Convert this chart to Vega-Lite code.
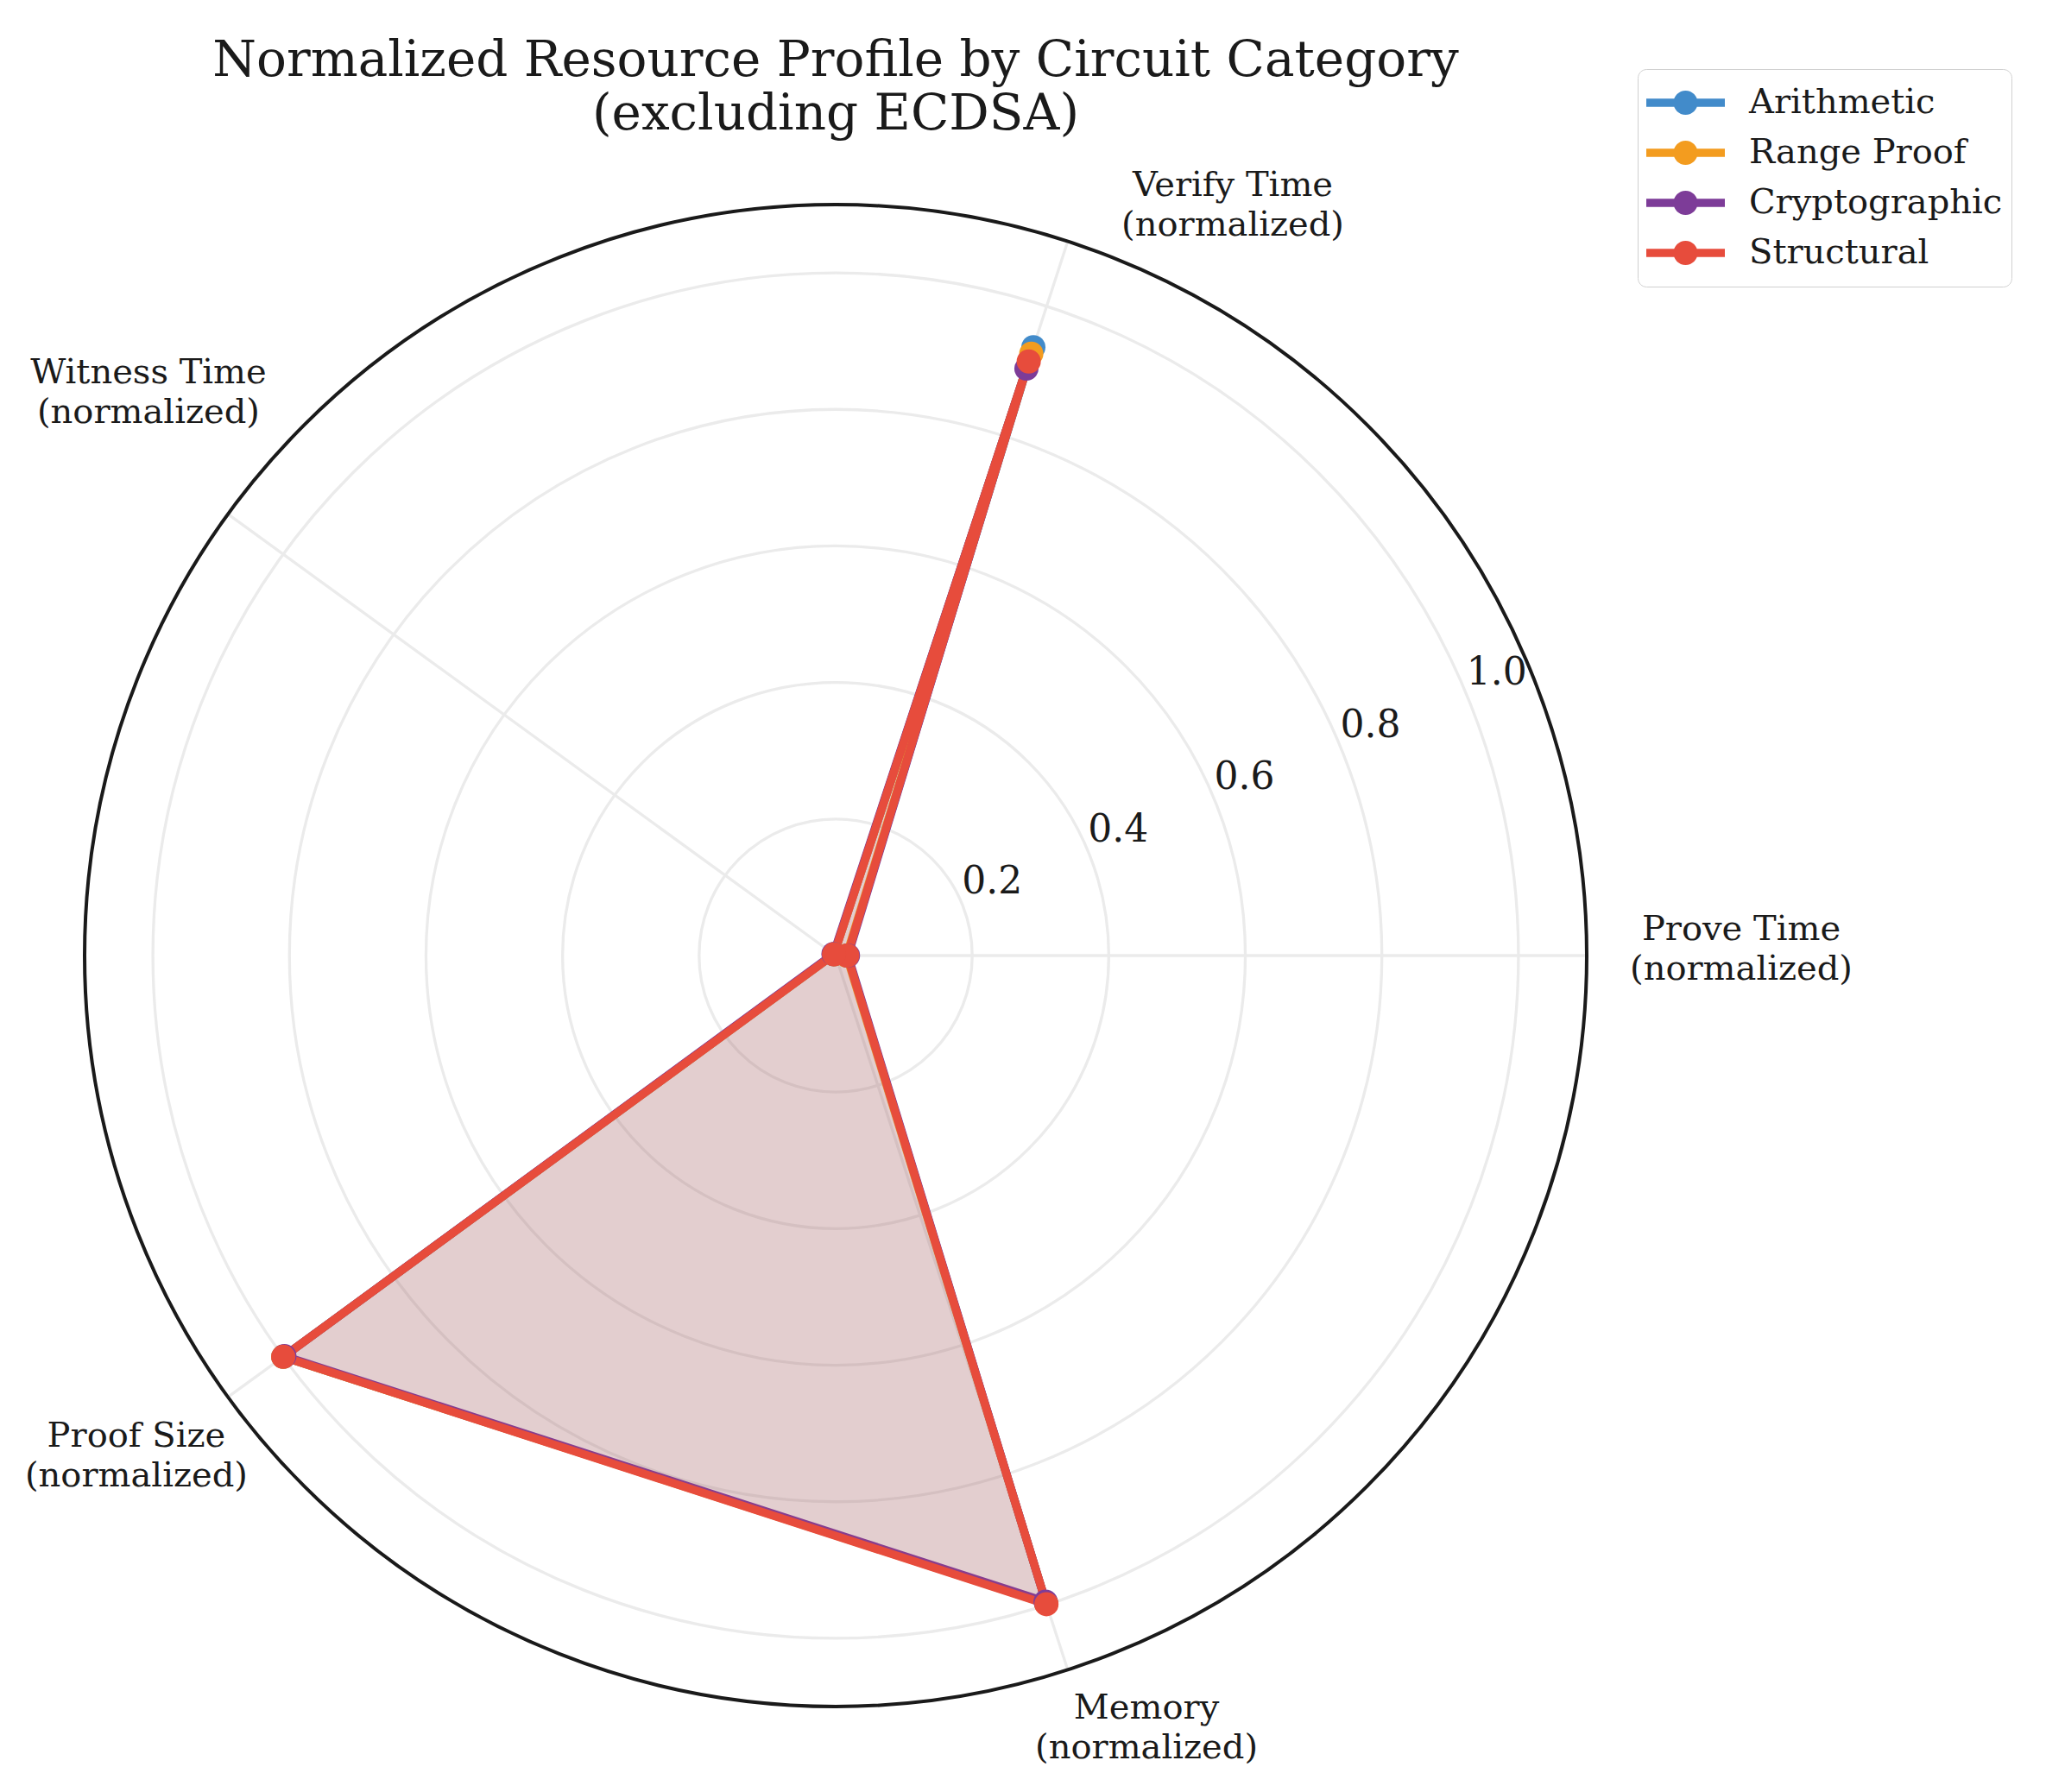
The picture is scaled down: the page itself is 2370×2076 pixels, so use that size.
{
  "$schema": "https://vega.github.io/schema/vega-lite/v6.json",
  "autosize": {"type": "none"},
  "padding": {"left": 0, "top": 138, "right": 434, "bottom": 0},
  "width": 1936,
  "height": 1938,
  "background": "white",
  "config": {"view": {"stroke": null}, "font": "DejaVu Serif"},
  "title": {
    "text": ["Normalized Resource Profile by Circuit Category", "(excluding ECDSA)"],
    "font": "DejaVu Serif",
    "fontSize": 58,
    "fontWeight": "normal",
    "color": "#1a1a1a",
    "lineHeight": 62,
    "anchor": "middle",
    "frame": "group",
    "baseline": "alphabetic",
    "offset": -128
  },
  "datasets": {
    "scores": [
      {"category": "Arithmetic", "metric": "Prove Time", "value": 0.017},
      {"category": "Arithmetic", "metric": "Verify Time", "value": 0.937},
      {"category": "Arithmetic", "metric": "Witness Time", "value": 0.003},
      {"category": "Arithmetic", "metric": "Proof Size", "value": 1.0},
      {"category": "Arithmetic", "metric": "Memory", "value": 0.997},
      {"category": "Range Proof", "metric": "Prove Time", "value": 0.016},
      {"category": "Range Proof", "metric": "Verify Time", "value": 0.927},
      {"category": "Range Proof", "metric": "Witness Time", "value": 0.003},
      {"category": "Range Proof", "metric": "Proof Size", "value": 1.0},
      {"category": "Range Proof", "metric": "Memory", "value": 0.998},
      {"category": "Cryptographic", "metric": "Prove Time", "value": 0.018},
      {"category": "Cryptographic", "metric": "Verify Time", "value": 0.904},
      {"category": "Cryptographic", "metric": "Witness Time", "value": 0.004},
      {"category": "Cryptographic", "metric": "Proof Size", "value": 0.998},
      {"category": "Cryptographic", "metric": "Memory", "value": 0.995},
      {"category": "Structural", "metric": "Prove Time", "value": 0.017},
      {"category": "Structural", "metric": "Verify Time", "value": 0.915},
      {"category": "Structural", "metric": "Witness Time", "value": 0.003},
      {"category": "Structural", "metric": "Proof Size", "value": 1.0},
      {"category": "Structural", "metric": "Memory", "value": 0.999}
    ],
    "metrics": [
      {"metric": "Prove Time", "idx": 0, "label": "Prove Time\n(normalized)"},
      {"metric": "Verify Time", "idx": 1, "label": "Verify Time\n(normalized)"},
      {"metric": "Witness Time", "idx": 2, "label": "Witness Time\n(normalized)"},
      {"metric": "Proof Size", "idx": 3, "label": "Proof Size\n(normalized)"},
      {"metric": "Memory", "idx": 4, "label": "Memory\n(normalized)"}
    ],
    "rings": [{"r": 0.2}, {"r": 0.4}, {"r": 0.6}, {"r": 0.8}, {"r": 1.0}],
    "outer": [{"r": 1.1}],
    "ticks": [
      {"r": 0.2, "label": "0.2"},
      {"r": 0.4, "label": "0.4"},
      {"r": 0.6, "label": "0.6"},
      {"r": 0.8, "label": "0.8"},
      {"r": 1.0, "label": "1.0"}
    ]
  },
  "layer": [
    {
      "data": {"name": "rings"},
      "mark": {"type": "point", "shape": "circle", "filled": false, "stroke": "#ebebeb", "strokeWidth": 3.3, "opacity": 1},
      "encoding": {
        "x": {"datum": 0, "type": "quantitative", "scale": {"domain": [-1.2239, 1.2239], "nice": false, "zero": false}, "axis": null},
        "y": {"datum": 0, "type": "quantitative", "scale": {"domain": [-1.2252, 1.2252], "nice": false, "zero": false}, "axis": null},
        "size": {"field": "r", "type": "quantitative", "scale": {"type": "pow", "exponent": 2, "domain": [0, 1.1], "range": [0, 3027600]}, "legend": null}
      }
    },
    {
      "data": {"name": "metrics"},
      "transform": [
        {"calculate": "datum.idx * 2 * PI / 5", "as": "ang"},
        {"calculate": "1.1 * cos(datum.ang)", "as": "ex"},
        {"calculate": "1.1 * sin(datum.ang)", "as": "ey"}
      ],
      "mark": {"type": "rule", "stroke": "#ebebeb", "strokeWidth": 3.3},
      "encoding": {
        "x": {"field": "ex", "type": "quantitative"},
        "y": {"field": "ey", "type": "quantitative"},
        "x2": {"datum": 0},
        "y2": {"datum": 0}
      }
    },
    {
      "data": {"name": "outer"},
      "mark": {"type": "point", "shape": "circle", "filled": false, "stroke": "#1a1a1a", "strokeWidth": 4, "opacity": 1},
      "encoding": {
        "x": {"datum": 0, "type": "quantitative"},
        "y": {"datum": 0, "type": "quantitative"},
        "size": {"field": "r", "type": "quantitative", "legend": null}
      }
    },
    {
      "data": {"name": "scores"},
      "transform": [
        {"lookup": "metric", "from": {"data": {"name": "metrics"}, "key": "metric", "fields": ["idx"]}},
        {"calculate": "datum.idx * 2 * PI / 5", "as": "ang"},
        {"calculate": "datum.value * cos(datum.ang)", "as": "px"},
        {"calculate": "datum.value * sin(datum.ang)", "as": "py"}
      ],
      "mark": {"type": "line", "interpolate": "linear-closed", "strokeWidth": 9.5, "strokeJoin": "round", "fillOpacity": 0.09, "strokeOpacity": 1},
      "encoding": {
        "x": {"field": "px", "type": "quantitative"},
        "y": {"field": "py", "type": "quantitative"},
        "order": {"field": "idx", "type": "quantitative"},
        "color": {"field": "category", "type": "nominal", "scale": {"domain": ["Arithmetic", "Range Proof", "Cryptographic", "Structural"], "range": ["#428bca", "#f39c1f", "#7d3c98", "#e74c3c"]}},
        "fill": {"field": "category", "type": "nominal", "scale": {"domain": ["Arithmetic", "Range Proof", "Cryptographic", "Structural"], "range": ["#428bca", "#f39c1f", "#7d3c98", "#e74c3c"]}, "legend": null}
      }
    },
    {
      "data": {"name": "scores"},
      "transform": [
        {"lookup": "metric", "from": {"data": {"name": "metrics"}, "key": "metric", "fields": ["idx"]}},
        {"calculate": "datum.idx * 2 * PI / 5", "as": "ang"},
        {"calculate": "datum.value * cos(datum.ang)", "as": "px"},
        {"calculate": "datum.value * sin(datum.ang)", "as": "py"}
      ],
      "mark": {"type": "point", "shape": "circle", "filled": true, "opacity": 1, "size": 784, "strokeWidth": 0},
      "encoding": {
        "x": {"field": "px", "type": "quantitative"},
        "y": {"field": "py", "type": "quantitative"},
        "color": {
          "field": "category",
          "type": "nominal",
          "scale": {"domain": ["Arithmetic", "Range Proof", "Cryptographic", "Structural"], "range": ["#428bca", "#f39c1f", "#7d3c98", "#e74c3c"]},
          "legend": {
            "title": null,
            "orient": "none",
            "legendX": 1897,
            "legendY": -58,
            "direction": "vertical",
            "symbolType": "M-1,-0.102H1V0.102H-1Z M0.308,0A0.308,0.308,0,1,1,-0.308,0A0.308,0.308,0,1,1,0.308,0Z",
            "symbolSize": 8281,
            "symbolStrokeWidth": 0,
            "symbolOpacity": 1,
            "labelFont": "DejaVu Serif",
            "labelFontSize": 40,
            "labelColor": "#1a1a1a",
            "labelLimit": 600,
            "labelOffset": 28,
            "padding": 10,
            "clipHeight": 58,
            "rowPadding": 0,
            "strokeColor": "#d0d0d0",
            "fillColor": "#ffffff",
            "cornerRadius": 10
          }
        }
      }
    },
    {
      "data": {"name": "ticks"},
      "transform": [
        {"calculate": "datum.r * cos(PI / 8)", "as": "tx"},
        {"calculate": "datum.r * sin(PI / 8)", "as": "ty"}
      ],
      "mark": {"type": "text", "font": "DejaVu Serif", "fontSize": 44, "color": "#1a1a1a", "align": "center", "baseline": "middle", "dx": 35, "dy": -24},
      "encoding": {
        "x": {"field": "tx", "type": "quantitative"},
        "y": {"field": "ty", "type": "quantitative"},
        "text": {"field": "label"}
      }
    },
    {
      "data": {"name": "metrics"},
      "transform": [
        {"calculate": "datum.idx * 2 * PI / 5", "as": "ang"},
        {"calculate": "1.1 * cos(datum.ang) + [0.2263, 0.2417, -0.1166, -0.1343, 0.1153][datum.idx]", "as": "lx"},
        {"calculate": "1.1 * sin(datum.ang) + [0.0379, 0.0823, 0.2063, -0.0577, -0.0564][datum.idx]", "as": "ly"}
      ],
      "mark": {"type": "text", "font": "DejaVu Serif", "fontSize": 40, "color": "#1a1a1a", "align": "center", "baseline": "middle", "lineBreak": "\n", "lineHeight": 46},
      "encoding": {
        "x": {"field": "lx", "type": "quantitative"},
        "y": {"field": "ly", "type": "quantitative"},
        "text": {"field": "label"}
      }
    }
  ]
}
